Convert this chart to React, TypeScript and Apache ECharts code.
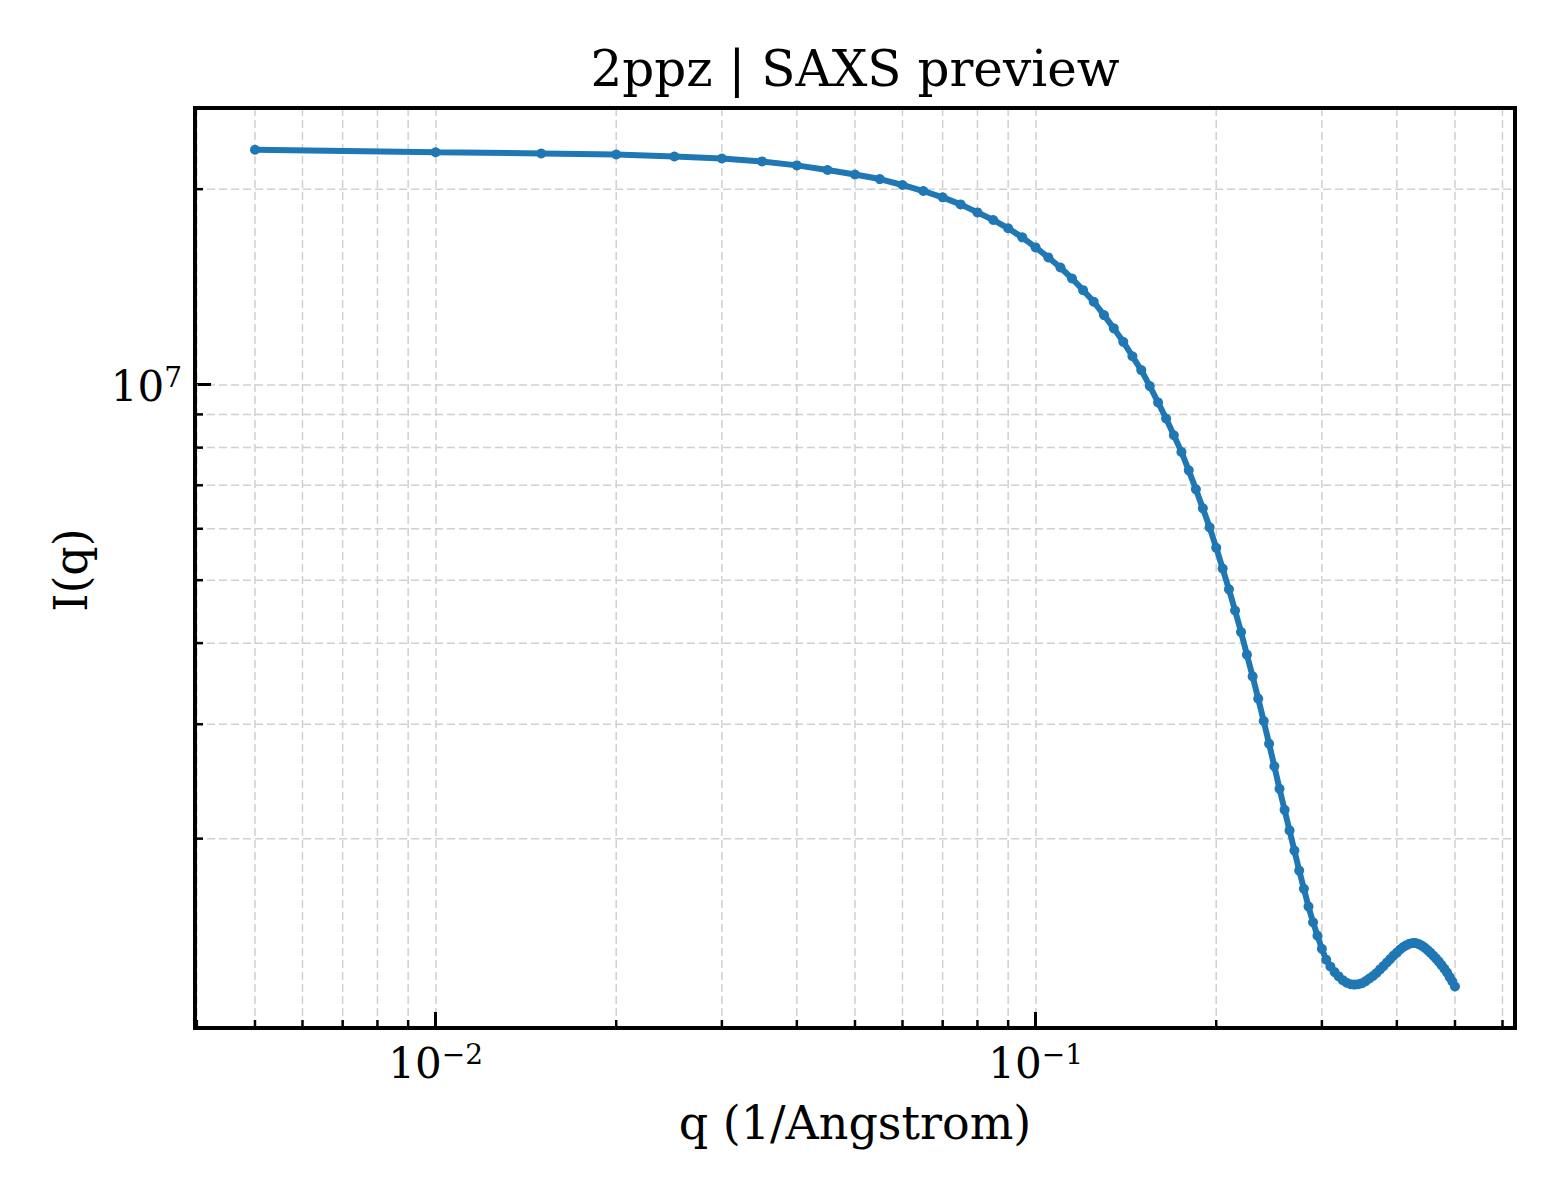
import { useEffect, useRef } from 'react'
import * as echarts from 'echarts'

const qValues = [
  0.005, 0.01, 0.015, 0.02, 0.025, 0.03, 0.035, 0.04, 0.045, 0.05,
  0.055, 0.06, 0.065, 0.07, 0.075, 0.08, 0.085, 0.09, 0.095, 0.1,
  0.105, 0.11, 0.115, 0.12, 0.125, 0.13, 0.135, 0.14, 0.145, 0.15,
  0.155, 0.16, 0.165, 0.17, 0.175, 0.18, 0.185, 0.19, 0.195, 0.2,
  0.205, 0.21, 0.215, 0.22, 0.225, 0.23, 0.235, 0.24, 0.245, 0.25,
  0.255, 0.26, 0.265, 0.27, 0.275, 0.28, 0.285, 0.29, 0.295, 0.3,
  0.305, 0.31, 0.315, 0.32, 0.325, 0.33, 0.335, 0.34, 0.345, 0.35,
  0.355, 0.36, 0.365, 0.37, 0.375, 0.38, 0.385, 0.39, 0.395, 0.4,
  0.405, 0.41, 0.415, 0.42, 0.425, 0.43, 0.435, 0.44, 0.445, 0.45,
  0.455, 0.46, 0.465, 0.47, 0.475, 0.48, 0.485, 0.49, 0.495, 0.5
]

const intensity = [
  2.3e7, 2.28e7, 2.27e7, 2.262e7, 2.246e7, 2.23e7, 2.207e7, 2.176e7, 2.141e7, 2.107e7,
  2.073e7, 2.03e7, 1.987e7, 1.943e7, 1.895e7, 1.842e7, 1.793e7, 1.741e7, 1.686e7, 1.627e7,
  1.57e7, 1.515e7, 1.457e7, 1.398e7, 1.342e7, 1.28e7, 1.221e7, 1.164e7, 1.106e7, 1.053e7,
  9.95e6, 9.39e6, 8.87e6, 8.36e6, 7.88e6, 7.38e6, 6.9e6, 6.45e6, 6.03e6, 5.61e6,
  5.21e6, 4.84e6, 4.49e6, 4.16e6, 3.84e6, 3.555e6, 3.285e6, 3.034e6, 2.8e6, 2.584e6,
  2.386e6, 2.215e6, 2.059e6, 1.917e6, 1.786e6, 1.674e6, 1.572e6, 1.487e6, 1.418e6, 1.353e6,
  1.302e6, 1.271e6, 1.246e6, 1.227e6, 1.211e6, 1.2e6, 1.194e6, 1.192e6, 1.194e6, 1.198e6,
  1.207e6, 1.218e6, 1.229e6, 1.242e6, 1.258e6, 1.273e6, 1.289e6, 1.305e6, 1.321e6, 1.335e6,
  1.35e6, 1.362e6, 1.371e6, 1.378e6, 1.381e6, 1.381e6, 1.376e6, 1.369e6, 1.359e6, 1.347e6,
  1.335e6, 1.321e6, 1.307e6, 1.293e6, 1.277e6, 1.261e6, 1.244e6, 1.224e6, 1.205e6, 1.184e6
]

// minor tick positions (2..9 x decade) inside the axis ranges
const xMinorTicks = [
  0.004, 0.005, 0.006, 0.007, 0.008, 0.009,
  0.02, 0.03, 0.04, 0.05, 0.06, 0.07, 0.08, 0.09,
  0.2, 0.3, 0.4, 0.5, 0.6
]
const yMinorTicks = [2e6, 3e6, 4e6, 5e6, 6e6, 7e6, 8e6, 9e6, 2e7]

const X_MIN = 0.003972
const X_MAX = 0.6295
const Y_MIN = 1.022e6
const Y_MAX = 2.667e7

const FONT = '"DejaVu Serif", serif'
const BLUE = '#1f77b4'
const GRID_COLOR = '#d0d0d0'

const powerLabel = (v: number) => {
  const e = Math.log10(v)
  const r = Math.round(e)
  if (Math.abs(e - r) > 1e-6) return ''
  const exp = r < 0 ? '\u2212' + Math.abs(r) : String(r)
  return `{b|10}{s|${exp}}`
}

const labelRich = {
  b: { fontSize: 42, lineHeight: 42, fontFamily: FONT, color: '#000', padding: [4, 0, 0, 0] },
  s: { fontSize: 28, lineHeight: 28, fontFamily: FONT, color: '#000', verticalAlign: 'top' }
}

export default function App() {
  const chartRef = useRef<HTMLDivElement | null>(null)

  useEffect(() => {
    if (!chartRef.current) return
    const chart = echarts.init(chartRef.current, null, { renderer: 'svg' })

    const gridLine = { stroke: GRID_COLOR, lineWidth: 1.5, lineDash: [8, 4] }
    const minorTick = { stroke: '#000', lineWidth: 2.5 }

    const option: any = {
      animation: false,
      backgroundColor: '#ffffff',
      textStyle: { fontFamily: FONT },
      grid: {
        left: 195,
        top: 108,
        width: 1320,
        height: 920,
        show: true,
        borderColor: '#000',
        borderWidth: 4,
        backgroundColor: 'transparent',
        z: 10
      },
      xAxis: {
        type: 'log',
        logBase: 10,
        min: X_MIN,
        max: X_MAX,
        axisLine: { show: false },
        axisTick: { show: true, inside: true, length: 16, lineStyle: { color: '#000', width: 3 } },
        axisLabel: { margin: 12, formatter: powerLabel, rich: labelRich, color: '#000' },
        splitLine: { show: true, lineStyle: { color: GRID_COLOR, width: 1.5, type: [8, 4] } }
      },
      yAxis: {
        type: 'log',
        logBase: 10,
        min: Y_MIN,
        max: Y_MAX,
        axisLine: { show: false },
        axisTick: { show: true, inside: true, length: 16, lineStyle: { color: '#000', width: 3 } },
        axisLabel: { margin: 13, formatter: powerLabel, rich: labelRich, color: '#000' },
        splitLine: { show: true, lineStyle: { color: GRID_COLOR, width: 1.5, type: [8, 4] } }
      },
      graphic: [
        {
          type: 'text', x: 855, y: 69,
          style: { text: '2ppz | SAXS preview', fontSize: 50, fontFamily: FONT, fill: '#000', align: 'center', verticalAlign: 'middle' }
        },
        {
          type: 'text', x: 855, y: 1123,
          style: { text: 'q (1/Angstrom)', fontSize: 46, fontFamily: FONT, fill: '#000', align: 'center', verticalAlign: 'middle' }
        },
        {
          type: 'text', x: 71, y: 570, rotation: Math.PI / 2,
          style: { text: 'I(q)', fontSize: 46, fontFamily: FONT, fill: '#000', align: 'center', verticalAlign: 'middle' }
        }
      ],
      series: [
        {
          type: 'custom',
          silent: true,
          z: 1,
          data: xMinorTicks.map((v) => [v, Y_MIN]),
          renderItem: (_p: any, api: any) => {
            const q = api.value(0)
            const b = api.coord([q, Y_MIN])
            const t = api.coord([q, Y_MAX])
            return {
              type: 'group',
              children: [
                { type: 'line', shape: { x1: b[0], y1: b[1], x2: t[0], y2: t[1] }, style: gridLine },
                { type: 'line', shape: { x1: b[0], y1: b[1], x2: b[0], y2: b[1] - 8 }, style: minorTick }
              ]
            }
          }
        },
        {
          type: 'custom',
          silent: true,
          z: 1,
          data: yMinorTicks.map((v) => [X_MIN, v]),
          renderItem: (_p: any, api: any) => {
            const v = api.value(1)
            const l = api.coord([X_MIN, v])
            const r = api.coord([X_MAX, v])
            return {
              type: 'group',
              children: [
                { type: 'line', shape: { x1: l[0], y1: l[1], x2: r[0], y2: r[1] }, style: gridLine },
                { type: 'line', shape: { x1: l[0], y1: l[1], x2: l[0] + 8, y2: l[1] }, style: minorTick }
              ]
            }
          }
        },
        {
          type: 'line',
          z: 3,
          data: qValues.map((q, i) => [q, intensity[i]]),
          symbol: 'circle',
          symbolSize: 10,
          showSymbol: true,
          lineStyle: { color: BLUE, width: 6 },
          itemStyle: { color: BLUE }
        }
      ]
    }

    chart.setOption(option)
    return () => chart.dispose()
  }, [])

  return (
    <div
      ref={chartRef}
      style={{ position: 'absolute', left: 0, top: 0, width: 1560, height: 1200 }}
    />
  )
}
